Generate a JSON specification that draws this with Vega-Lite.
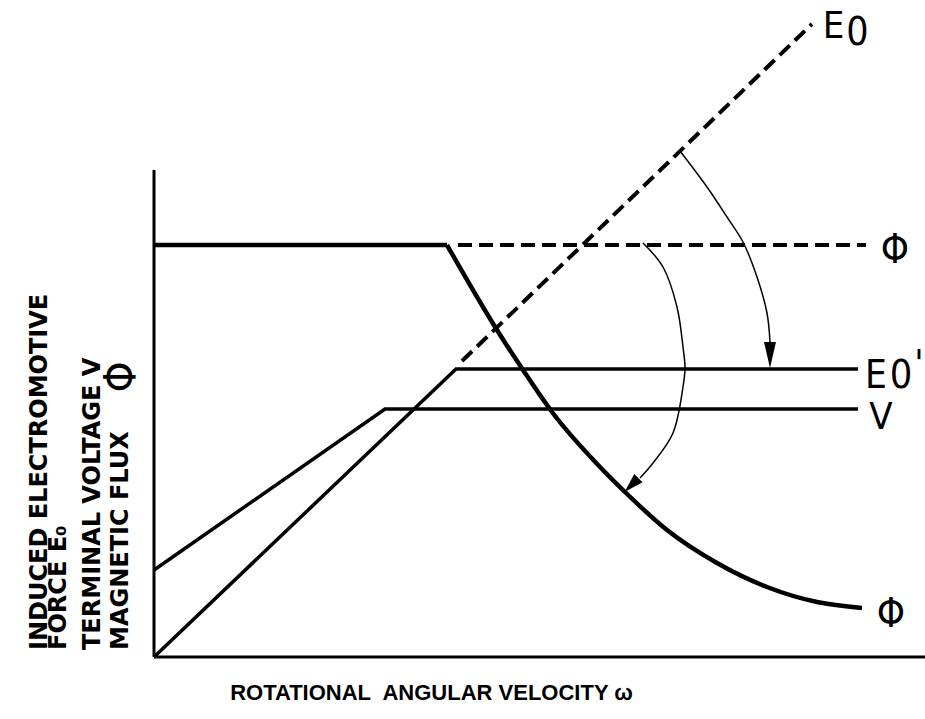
{
  "$schema": "https://vega.github.io/schema/vega-lite/v6.json",
  "width": 771,
  "height": 657,
  "autosize": {"type": "none"},
  "padding": {"left": 154, "top": 0, "right": 0, "bottom": 62},
  "background": "white",
  "config": {"view": {"stroke": null}},
  "datasets": {
    "axes": [
      {"line": "omega axis", "i": 0, "x": 0, "y": 0},
      {"line": "omega axis", "i": 1, "x": 771, "y": 0},
      {"line": "value axis", "i": 0, "x": 0, "y": 0},
      {"line": "value axis", "i": 1, "x": 0, "y": 487}
    ],
    "solid": [
      {"curve": "E0'", "i": 0, "x": 0, "y": 0},
      {"curve": "E0'", "i": 1, "x": 302, "y": 288},
      {"curve": "E0'", "i": 2, "x": 704, "y": 288},
      {"curve": "V", "i": 0, "x": 0, "y": 87},
      {"curve": "V", "i": 1, "x": 231, "y": 248},
      {"curve": "V", "i": 2, "x": 704, "y": 248}
    ],
    "flux": [
      {"part": "constant", "x": 0, "y": 412},
      {"part": "constant", "x": 293, "y": 412},
      {"part": "weakening", "x": 293, "y": 412},
      {"part": "weakening", "x": 343, "y": 327},
      {"part": "weakening", "x": 369, "y": 287},
      {"part": "weakening", "x": 398, "y": 245},
      {"part": "weakening", "x": 446, "y": 190},
      {"part": "weakening", "x": 471, "y": 165},
      {"part": "weakening", "x": 513, "y": 127},
      {"part": "weakening", "x": 563, "y": 94},
      {"part": "weakening", "x": 613, "y": 70},
      {"part": "weakening", "x": 663, "y": 55},
      {"part": "weakening", "x": 708, "y": 49}
    ],
    "dashed": [
      {"curve": "Phi (no control)", "i": 0, "x": 304, "y": 412},
      {"curve": "Phi (no control)", "i": 1, "x": 712, "y": 412},
      {"curve": "E0", "i": 0, "x": 308, "y": 296},
      {"curve": "E0", "i": 1, "x": 658, "y": 633}
    ],
    "arcs": [
      {"arc": "E0 to E0'", "i": 0, "x": 526, "y": 506},
      {"arc": "E0 to E0'", "i": 1, "x": 553, "y": 470},
      {"arc": "E0 to E0'", "i": 2, "x": 573, "y": 440},
      {"arc": "E0 to E0'", "i": 3, "x": 589, "y": 415},
      {"arc": "E0 to E0'", "i": 4, "x": 603, "y": 380},
      {"arc": "E0 to E0'", "i": 5, "x": 613, "y": 344},
      {"arc": "E0 to E0'", "i": 6, "x": 616, "y": 315},
      {"arc": "Phi to Phi'", "i": 0, "x": 489, "y": 414},
      {"arc": "Phi to Phi'", "i": 1, "x": 509, "y": 390},
      {"arc": "Phi to Phi'", "i": 2, "x": 523, "y": 350},
      {"arc": "Phi to Phi'", "i": 3, "x": 529, "y": 310},
      {"arc": "Phi to Phi'", "i": 4, "x": 531, "y": 289},
      {"arc": "Phi to Phi'", "i": 5, "x": 529, "y": 270},
      {"arc": "Phi to Phi'", "i": 6, "x": 519, "y": 224},
      {"arc": "Phi to Phi'", "i": 7, "x": 499, "y": 194},
      {"arc": "Phi to Phi'", "i": 8, "x": 486, "y": 179}
    ],
    "arrow1": [{"x": 616, "y": 302}],
    "arrow2": [{"x": 477.5, "y": 172}],
    "labels": [
      {"text": "E", "kind": "letter", "x": 679.5, "y": 619},
      {"text": "0", "kind": "subscript", "x": 703.5, "y": 612},
      {"text": "E", "kind": "tall", "x": 722, "y": 269},
      {"text": "0", "kind": "small subscript", "x": 747, "y": 269},
      {"text": "'", "kind": "letter", "x": 765, "y": 281},
      {"text": "V", "kind": "letter", "x": 727, "y": 228},
      {"text": "Φ", "kind": "symbol", "x": 741, "y": 394},
      {"text": "Φ", "kind": "symbol", "x": 737, "y": 30}
    ],
    "ytitle": [
      {"text": "INDUCED ELECTROMOTIVE", "x": -107, "y": 7},
      {"text": "FORCE E₀", "x": -88, "y": 7},
      {"text": "TERMINAL VOLTAGE V", "x": -54, "y": 7},
      {"text": "MAGNETIC  FLUX", "x": -26, "y": 7}
    ],
    "yphi": [{"text": "Φ", "x": -31, "y": 280}],
    "xtitle": [{"text": "ROTATIONAL\u00a0 ANGULAR VELOCITY ω", "x": 277.5, "y": -43}]
  },
  "encoding": {
    "x": {"field": "x", "type": "quantitative", "scale": {"domain": [0, 771], "nice": false, "zero": false}, "axis": null},
    "y": {"field": "y", "type": "quantitative", "scale": {"domain": [0, 657], "nice": false, "zero": false}, "axis": null}
  },
  "layer": [
    {
      "data": {"name": "axes"},
      "mark": {"type": "line", "color": "black", "strokeWidth": 3, "strokeCap": "butt"},
      "encoding": {"detail": {"field": "line"}, "order": {"field": "i"}}
    },
    {
      "data": {"name": "solid"},
      "mark": {"type": "line", "color": "black", "strokeWidth": 3.5, "strokeJoin": "miter"},
      "encoding": {"detail": {"field": "curve"}, "order": {"field": "i"}}
    },
    {
      "data": {"name": "flux"},
      "transform": [{"filter": "datum.part === 'constant'"}],
      "mark": {"type": "line", "color": "black", "strokeWidth": 4.5},
      "encoding": {}
    },
    {
      "data": {"name": "flux"},
      "transform": [{"filter": "datum.part === 'weakening'"}],
      "mark": {"type": "line", "color": "black", "strokeWidth": 4.5, "interpolate": "monotone"},
      "encoding": {}
    },
    {
      "data": {"name": "dashed"},
      "mark": {"type": "line", "color": "black", "strokeWidth": 4, "strokeDash": [14, 7]},
      "encoding": {"detail": {"field": "curve"}, "order": {"field": "i"}}
    },
    {
      "data": {"name": "arcs"},
      "mark": {"type": "line", "color": "black", "strokeWidth": 1.5, "interpolate": "catmull-rom"},
      "encoding": {"detail": {"field": "arc"}, "order": {"field": "i"}}
    },
    {
      "data": {"name": "arrow1"},
      "mark": {"type": "point", "filled": true, "color": "black", "opacity": 1, "shape": "M-0.46,-1L0.46,-1L0,1Z", "size": 676}
    },
    {
      "data": {"name": "arrow2"},
      "mark": {"type": "point", "filled": true, "color": "black", "opacity": 1, "shape": "M-0.6,-1L0.6,-1L0,1Z", "size": 380, "angle": 45}
    },
    {
      "data": {"name": "labels"},
      "mark": {"type": "text", "color": "black", "align": "center", "baseline": "alphabetic", "font": "Liberation Sans Narrow, DejaVu Sans Condensed, Liberation Sans, sans-serif"},
      "encoding": {
        "text": {"field": "text"},
        "size": {"field": "kind", "type": "nominal", "scale": {"domain": ["letter", "tall", "subscript", "small subscript", "symbol"], "range": [38, 40, 33, 28, 44]}, "legend": null}
      }
    },
    {
      "data": {"name": "ytitle"},
      "mark": {"type": "text", "color": "black", "align": "left", "baseline": "alphabetic", "angle": 270, "font": "DejaVu Sans", "fontWeight": "bold", "fontSize": 24},
      "encoding": {"text": {"field": "text"}}
    },
    {
      "data": {"name": "yphi"},
      "mark": {"type": "text", "color": "black", "align": "center", "baseline": "middle", "angle": 270, "font": "Liberation Sans Narrow, DejaVu Sans Condensed, Liberation Sans, sans-serif", "fontSize": 44},
      "encoding": {"text": {"field": "text"}}
    },
    {
      "data": {"name": "xtitle"},
      "mark": {"type": "text", "color": "black", "align": "center", "baseline": "alphabetic", "font": "Liberation Sans", "fontWeight": "bold", "fontSize": 22},
      "encoding": {"text": {"field": "text"}}
    }
  ]
}
